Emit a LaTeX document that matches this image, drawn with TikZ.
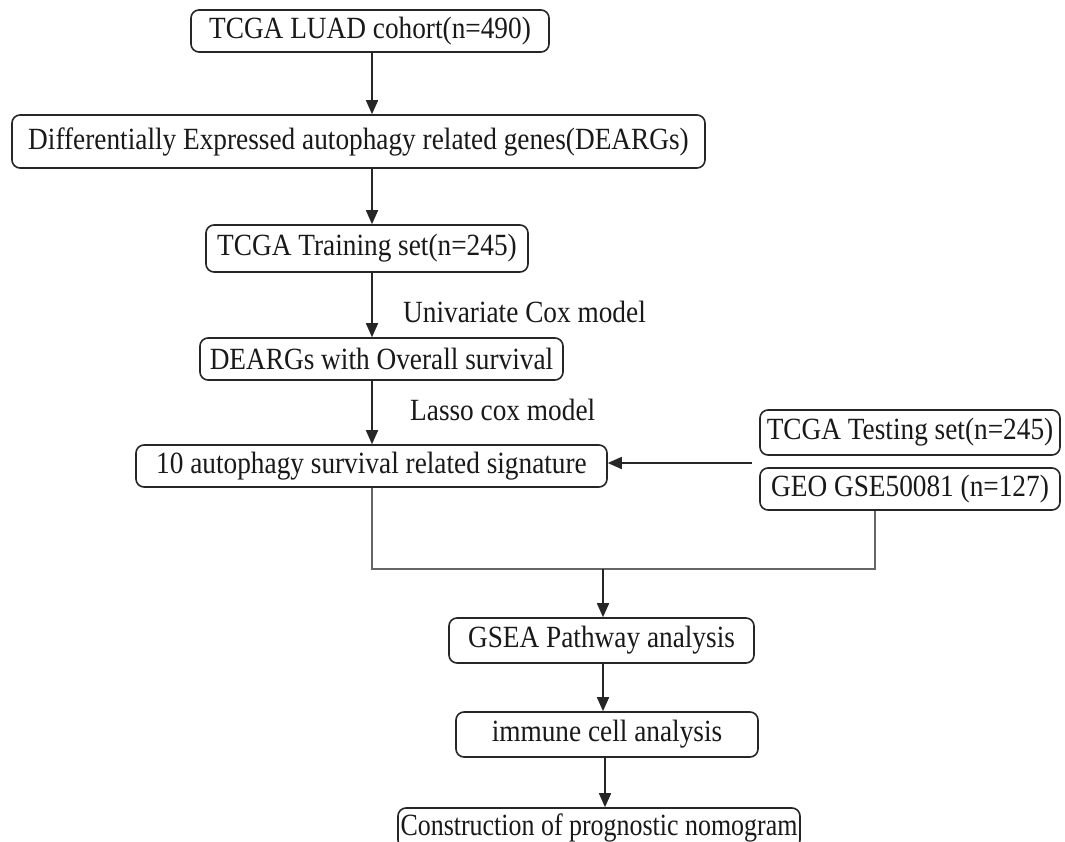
\documentclass[tikz,border=0pt]{standalone}
\usepackage{fontspec}
\usepackage{graphicx}
\setmainfont{Liberation Serif}
\usetikzlibrary{arrows.meta}
\newcommand\tx[2][1]{\scalebox{#1}[1.13]{#2}}
\begin{document}
\begin{tikzpicture}[x=1pt,y=-1pt,
  box/.style={draw=black!85,line width=1.6pt,rounded corners=8pt,inner sep=0pt,
    font=\fontsize{27.3}{32}\selectfont,text=black!90},
  arr/.style={line width=1.6pt,draw=black!85,-{Triangle[length=14pt,width=12pt]}},
  lnk/.style={line width=1.1pt,draw=black!60},
  lbl/.style={font=\fontsize{27.3}{32}\selectfont,text=black!90,inner sep=0pt,anchor=west}]
\clip (0,0) rectangle (1065,842);
\fill[white] (0,0) rectangle (1065,842);
\coordinate (ax) at (372,0);
\node[box,minimum width=358pt,minimum height=42pt] (b1) at (370,31) {\tx{TCGA LUAD cohort(n=490)}};
\node[box,minimum width=693pt,minimum height=53pt] (b2) at (358.5,141.5) {\tx{Differentially Expressed autophagy related genes(DEARGs)}};
\node[box,minimum width=322pt,minimum height=47pt] (b3) at (367,248.5) {\tx{TCGA Training set(n=245)}};
\node[box,minimum width=363pt,minimum height=42pt] (b4) at (381.5,359) {\tx{DEARGs with Overall survival}};
\node[box,minimum width=471pt,minimum height=42pt] (b5) at (371.5,466) {\tx{10 autophagy survival related signature}};
\node[box,minimum width=300pt,minimum height=45pt] (test) at (910,432.5) {\tx{TCGA Testing set(n=245)}};
\node[box,minimum width=300pt,minimum height=42pt] (geo) at (910,489) {\tx{GEO GSE50081 (n=127)}};
\node[box,minimum width=305pt,minimum height=45pt] (b6) at (601.5,640.5) {\tx{GSEA Pathway analysis}};
\node[box,minimum width=302pt,minimum height=45pt] (b7) at (607,734.5) {\tx{immune cell analysis}};
\node[box,minimum width=402pt,minimum height=40pt] (b8) at (599,828) {\tx[0.95]{Construction of prognostic nomogram}};
\node[lbl] (l1) at (403,312) {\tx{Univariate Cox model}};
\node[lbl] (l2) at (410,410) {\tx{Lasso cox model}};
\draw[arr] (b1.south -| ax) -- (b2.north -| ax);
\draw[arr] (b2.south -| ax) -- (b3.north -| ax);
\draw[arr] (b3.south -| ax) -- (b4.north -| ax);
\draw[arr] (b4.south -| ax) -- (b5.north -| ax);
\coordinate (src) at (752,463);
\draw[arr] (src) -- (b5.east |- src);
\coordinate (j1) at (372,569);
\coordinate (j2) at (875,569);
\coordinate (j3) at (603,569);
\draw[lnk] (b5.south -| j1) -- (j1) -- (j2) -- (geo.south -| j2);
\draw[arr] (j3) -- (b6.north -| j3);
\draw[arr] (b6.south -| j3) -- (b7.north -| j3);
\coordinate (ax2) at (605,0);
\draw[arr] (b7.south -| ax2) -- (b8.north -| ax2);
\end{tikzpicture}
\end{document}
